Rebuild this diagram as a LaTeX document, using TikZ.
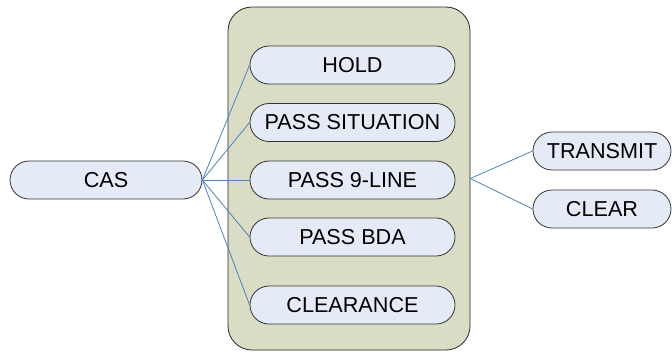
\documentclass[tikz,border=0pt]{standalone}
\usepackage{fontspec}
\setmainfont{Liberation Sans}
\definecolor{groupfill}{HTML}{DADDC6}
\definecolor{nodefill}{HTML}{E5EBF6}
\definecolor{linkblue}{HTML}{4F81BD}
\begin{document}
\begin{tikzpicture}[x=1pt,y=-1pt,
  pill/.style={draw=black!80, line width=0.8pt, fill=nodefill, rounded corners=19pt,
    minimum height=38pt, inner sep=0pt, font=\fontsize{21.6}{25}\selectfont},
  inner/.style={pill, minimum width=205pt},
  outer/.style={pill, minimum width=138pt},
  link/.style={draw=linkblue, line width=0.8pt}]
\useasboundingbox (0,0) rectangle (672,351);

% grouping panel
\node[draw=black!85, line width=0.8pt, fill=groupfill, rounded corners=24pt,
      minimum width=242pt, minimum height=343pt, inner sep=0pt] (grp) at (349,178.5) {};

% source node
\node[pill, minimum width=192pt] (cas) at (106,180) {CAS};

% message nodes inside the panel
\node[inner] (hold)  at (352.5,65)  {HOLD};
\node[inner] (sit)   at (352.5,122.5) {PASS SITUATION};
\node[inner] (nine)  at (352.5,180) {PASS 9-LINE};
\node[inner] (bda)   at (352.5,237) {PASS BDA};
\node[inner] (clr)   at (352.5,305) {CLEARANCE};

% actions
\node[outer] (tx)    at (602,151) {TRANSMIT};
\node[outer] (clear) at (602,209) {CLEAR};

% connectors
\foreach \t in {hold,sit,nine,bda,clr}
  \draw[link] (cas.east) -- (\t.west);
\draw[link] (grp.east) -- (tx.west);
\draw[link] (grp.east) -- (clear.west);
\end{tikzpicture}
\end{document}
